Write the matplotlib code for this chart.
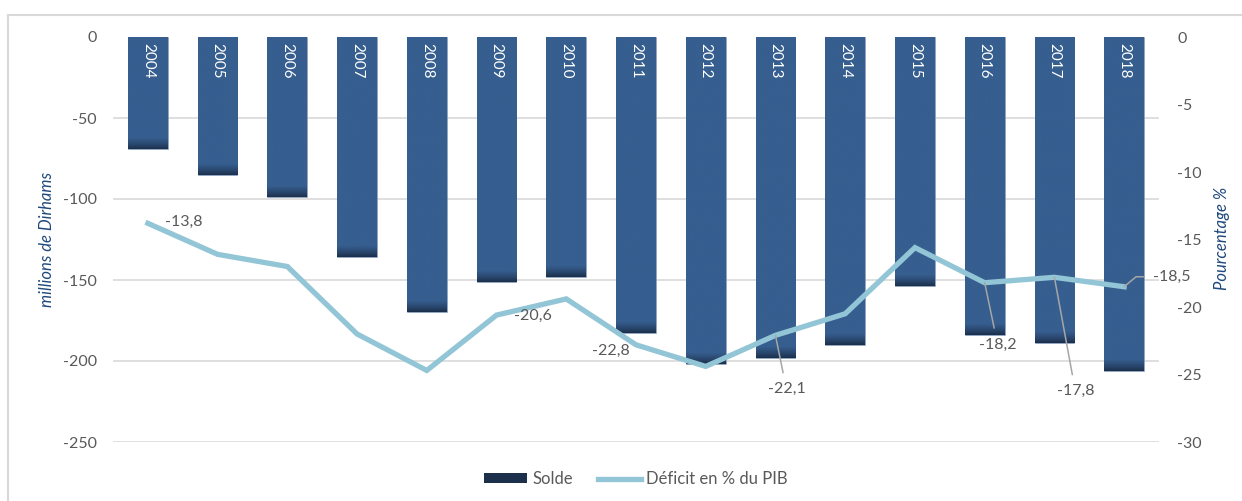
import matplotlib
matplotlib.use("Agg")
import matplotlib.pyplot as plt
import numpy as np
from matplotlib.lines import Line2D
from matplotlib.patches import Patch
from matplotlib.colors import to_rgb

# ---------------- data ----------------
years = [str(y) for y in range(2004, 2019)]
solde = [-69, -85, -99, -136, -170, -151, -148, -183, -202, -198, -190, -154, -184, -189, -206]
deficit = [-13.8, -16.1, -17.0, -22.0, -24.7, -20.6, -19.4, -22.8, -24.4, -22.1, -20.5, -15.6, -18.2, -17.8, -18.5]
left_ticks = [0, -50, -100, -150, -200, -250]
right_ticks = [0, -5, -10, -15, -20, -25, -30]
labelled = [0, 5, 7, 9, 12, 13, 14]

# ---------------- style ----------------
W, H = 1242, 501
BAR = "#365E8F"
BAR_DARK = "#1C2F4B"
LINE = "#92C5D6"
GRID = "#D9D9D9"
TXT = "#595959"
TITLE = "#1F497D"
FONT = ["Lato", "DejaVu Sans"]
plt.rcParams["font.family"] = FONT

# label offsets in pixels (dx, dy) and alignment, and leader style
lab_style = {
    0: dict(off=(17, 1), ha="left", leader=None),
    5: dict(off=(17, -1), ha="left", leader=None),
    7: dict(off=(-6, -6), ha="right", leader=None),
    9: dict(off=(11, -54), ha="center", leader="arc3"),
    12: dict(off=(13, -62), ha="center", leader="arc3"),
    13: dict(off=(21, -114), ha="center", leader="arc3"),
    14: dict(off=(29, 10), ha="left", leader="angle,angleA=0,angleB=40,rad=0"),
}

fig = plt.figure(figsize=(W / 100, H / 100), dpi=100)
x0, x1, ytop, ybot = 113, 1159, 37, 442
ax = fig.add_axes([x0 / W, 1 - ybot / H, (x1 - x0) / W, (ybot - ytop) / H])
ax2 = ax.twinx()

x = np.arange(len(years))
bw = 0.57
bars = ax.bar(x, solde, width=bw, color=BAR, zorder=2, edgecolor="#8FA3BF", linewidth=0.4)

ax.set_xlim(-0.5, len(years) - 0.5)
ax.set_ylim(min(left_ticks), max(left_ticks))

# darkened gradient at the bottom of each bar
px_per_unit = (ybot - ytop) / (max(left_ticks) - min(left_ticks))
dark_len = 11 / px_per_unit
c1 = np.array(to_rgb(BAR))
c2 = np.array(to_rgb(BAR_DARK))
for rect, v in zip(bars.patches, solde):
    n = 300
    ys = np.linspace(v, 0, n)
    t = np.clip((ys - v) / dark_len, 0, 1)[:, None]
    t = t ** 0.8
    img = c2 * (1 - t) + c1 * t
    img = np.repeat(img[:, None, :], 2, axis=1)
    im = ax.imshow(img, extent=(rect.get_x(), rect.get_x() + rect.get_width(), v, 0),
                   origin="lower", aspect="auto", zorder=2.5, interpolation="bilinear")
    im.set_clip_path(rect)

ax.set_xlim(-0.5, len(years) - 0.5)
ax.set_ylim(min(left_ticks), max(left_ticks))

# year labels inside bars
for xi, yr in zip(x, years):
    ax.text(xi, -3.5, yr, rotation=-90, ha="center", va="top", color="white",
            fontsize=11, zorder=4)

# gridlines (no line at zero)
ax.hlines([t for t in left_ticks if t != 0], 0, 1, transform=ax.get_yaxis_transform(),
          colors=GRID, linewidth=1.2, zorder=1)

ax.set_yticks(left_ticks)
ax.set_yticklabels([str(t) for t in left_ticks])
ax.set_xticks([])
ax.tick_params(axis="y", length=0, pad=11.5, labelsize=11.5, labelcolor=TXT)
for s in ax.spines.values():
    s.set_visible(False)

# line on secondary axis
ax2.plot(x, deficit, color=LINE, linewidth=3.8, solid_joinstyle="miter", zorder=3)
ax2.set_ylim(min(right_ticks), max(right_ticks))
ax2.set_yticks(right_ticks)
ax2.set_yticklabels([str(t) for t in right_ticks])
ax2.tick_params(axis="y", length=0, pad=13, labelsize=11.5, labelcolor=TXT)
for s in ax2.spines.values():
    s.set_visible(False)

for i in labelled:
    st = lab_style[i]
    txt = f"{deficit[i]:.1f}".replace(".", ",")
    dx, dy = st["off"]
    kw = dict(xy=(x[i], deficit[i]), xytext=(dx * 0.72, dy * 0.72), textcoords="offset points",
              ha=st["ha"], va="center", fontsize=11.5, color=TXT, zorder=5)
    if st["leader"]:
        kw["arrowprops"] = dict(arrowstyle="-", color="#A6A6A6", lw=1.1, shrinkA=5, shrinkB=0,
                                connectionstyle=st["leader"])
    ax2.annotate(txt, **kw)

# axis titles
fig.text(47 / W, 1 - 239 / H, "millions de Dirhams", rotation=90, ha="center", va="center",
         fontsize=12, style="italic", color=TITLE)
fig.text(1222 / W, 1 - 238 / H, "Pourcentage %", rotation=90, ha="center", va="center",
         fontsize=12, style="italic", color=TITLE)

# legend
handles = [Patch(facecolor=BAR_DARK, edgecolor="none"),
           Line2D([0], [0], color=LINE, linewidth=3.8)]
fig.legend(handles, ["Solde", "Déficit en % du PIB"], loc="center",
           bbox_to_anchor=(636 / W, 1 - 479 / H), ncol=2, frameon=False,
           fontsize=12, labelcolor=TXT, handlelength=2.6, handleheight=0.5,
           handletextpad=0.3, columnspacing=1.5)

# outer frame (top and left visible)
fig.add_artist(Line2D([8 / W, 1], [1 - 15 / H, 1 - 15 / H], color=GRID, lw=1.5))
fig.add_artist(Line2D([8 / W, 8 / W], [0, 1 - 15 / H], color=GRID, lw=1.5))

fig.savefig("out.png", dpi=100)
